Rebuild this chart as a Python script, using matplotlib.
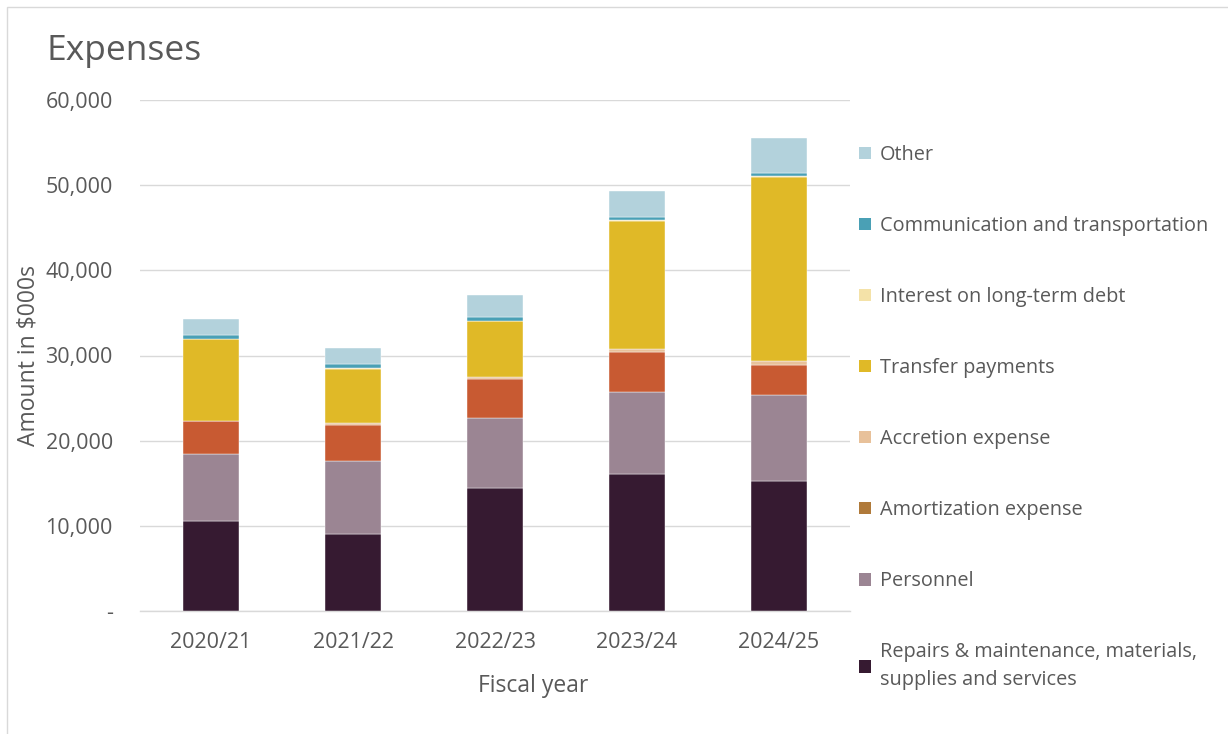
import matplotlib
matplotlib.use("Agg")
import matplotlib.pyplot as plt
from matplotlib.patches import Patch, Rectangle
from matplotlib.ticker import FuncFormatter
import numpy as np

plt.rcParams['font.family'] = ['Open Sans', 'DejaVu Sans']

years = ["2020/21", "2021/22", "2022/23", "2023/24", "2024/25"]

# Expense components, $000s (stacked bottom to top)
repairs = [10600, 9000, 14450, 16100, 15300]
personnel = [7800, 8600, 8230, 9600, 10080]
amortization = [3950, 4200, 4590, 4740, 3530]
accretion = [0, 280, 240, 350, 390]
transfer = [9530, 6390, 6510, 15060, 21670]
interest = [80, 80, 80, 80, 100]
communication = [390, 420, 390, 390, 310]
other = [1960, 1930, 2590, 3020, 4120]

series = [
    ("Repairs & maintenance, materials,\nsupplies and services", repairs, "#361a31", "#361a31"),
    ("Personnel", personnel, "#9b8593", "#9b8593"),
    ("Amortization expense", amortization, "#c85a32", "#b07a3a"),
    ("Accretion expense", accretion, "#e8c19a", "#e8c19a"),
    ("Transfer payments", transfer, "#e0b927", "#e0b927"),
    ("Interest on long-term debt", interest, "#f4e2a8", "#f4e2a8"),
    ("Communication and transportation", communication, "#4aa0b5", "#4aa0b5"),
    ("Other", other, "#b3d2dc", "#b3d2dc"),
]

W, H = 1228, 734
fig = plt.figure(figsize=(W / 100, H / 100), dpi=100)
fig.patch.set_facecolor("white")

# thin frame around the chart area
fig.patches.append(Rectangle((7 / W, -0.05), 1.1, 1 - 7 / H + 0.05,
                             transform=fig.transFigure, fill=False,
                             edgecolor="#d9d9d9", linewidth=1.0))

ax = fig.add_axes([140 / W, 1 - 611 / H, 710 / W, 511 / H])

x = np.arange(len(years))
bottom = np.zeros(len(years))
for label, vals, color, _ in series:
    vals = np.array(vals, dtype=float)
    ax.bar(x, vals, width=0.4, bottom=bottom, color=color,
           edgecolor="white", linewidth=0.3, zorder=3)
    bottom += vals

ax.set_xlim(-0.5, len(years) - 0.5)
ax.set_ylim(0, 60000)
ax.set_yticks(np.arange(0, 60001, 10000))
ax.yaxis.set_major_formatter(FuncFormatter(lambda v, p: "-" if v == 0 else f"{int(v):,}"))
ax.set_xticks(x)
ax.set_xticklabels(years)
ax.grid(axis="y", color="#d9d9d9", linewidth=1.0, zorder=0)
for s in ["top", "right", "left"]:
    ax.spines[s].set_visible(False)
ax.spines["bottom"].set_color("#d9d9d9")
ax.spines["bottom"].set_linewidth(1.0)
ax.tick_params(axis="both", length=0, labelsize=15.5, colors="#595959")
ax.tick_params(axis="y", pad=19.5)
ax.tick_params(axis="x", pad=15)

ax.set_ylabel("Amount in $000s", fontsize=16.5, color="#595959", labelpad=3.5)
ax.set_xlabel("Fiscal year", fontsize=16.5, color="#595959", labelpad=15)
ax.xaxis.label.set_x(0.5535)

fig.text(46 / W, 1 - 51 / H, "Expenses", fontsize=25.5, color="#595959",
         va="center", ha="left")

handles = [Patch(facecolor=lc, edgecolor="none", label=lab)
           for lab, _, _, lc in series[::-1]]
leg = fig.legend(handles=handles, loc="upper left",
                 bbox_to_anchor=(851 / W, 1 - 137 / H), frameon=False,
                 fontsize=14.3, labelcolor="#595959", handlelength=0.6,
                 handleheight=0.6, handletextpad=0.45, labelspacing=2.57,
                 borderaxespad=0)
leg.get_texts()[-1].set_linespacing(1.5)

fig.savefig("out.png", dpi=100, facecolor="white")
